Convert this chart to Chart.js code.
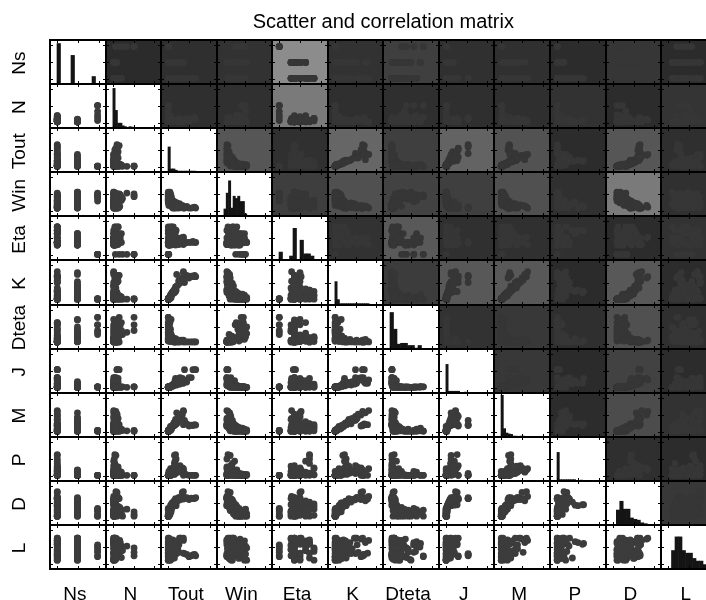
<!DOCTYPE html>
<html>
<head>
<meta charset="utf-8">
<style>
  html, body { margin: 0; padding: 0; background: #fff; width: 706px; height: 600px; overflow: hidden; }
  #wrap { position: relative; width: 706px; height: 600px; overflow: hidden; }
  canvas { position: absolute; top: 0; left: 0; }
</style>
<script src="https://cdn.jsdelivr.net/npm/chart.js@4"></script>
</head>
<body>
<div id="wrap"><canvas id="base" width="720" height="600"></canvas></div>
<script>
var names = ["Ns", "N", "Tout", "Win", "Eta", "K", "Dteta", "J", "M", "P", "D", "L"];

var Ns = [85,85,85,85,85,85,85,13,13,13,13,13,13,13,49,13,13,13,49,49,13,13,49,13,13,49,13,49,13,49,13,49,13,49,13,49,49,13,49,13,49,13,49,13,49,13,49,13,49,13,49,13,49,13,49,13,49,13,13,13,49,13,49,13,13,49,13,49,13,49,13,49,13,49,13,13,49,13,49,13,49];
var N = [51,51,51,38,30,24,17,20,24,22,18,16,22,20,14,20,14,18,14,16,14,22,16,16,18,14,15,14,14,15,16,14,18,15,20,15,15,22,14,25,14,16,14,28,14,14,14,18,15,14,14,20,14,16,14,15,14,14,14,16,20,26,15,28,24,18,15,16,14,14,16,15,18,14,20,16,17,22,15,18,19];
var Tout = [13,13,14,13,13,13,13,62,60,57,54,50,46,42,40,38,40,40,28,36,34,32,33,26,24,28,27,26,25,24,24,22,22,21,20,20,19,19,18,18,17,17,16,16,16,15,15,15,14,14,14,13,13,13,13,13,13,13,13,14,14,15,15,14,15,16,17,18,20,22,23,25,26,30,32,18,16,13,14,15,17];
var Win = [44,46,50,52,40,48,34,18,20,19,18,18,22,18,20,24,18,20,23,22,25,18,28,20,24,30,18,26,32,18,28,34,20,18,36,25,40,30,46,22,50,28,38,35,54,26,42,45,52,33,24,48,30,38,50,44,54,40,34,44,46,48,40,42,50,36,30,26,22,24,27,21,25,19,23,32,48,36,30,52,42];
var Eta = [13,13,13,13,13,13,13,40,40,42,40,40,40,38,50,50,35,52,50,50,40,35,40,67,67,40,67,50,60,35,67,40,75,50,40,60,40,75,50,40,40,75,50,60,40,40,34,60,43,34,50,40,40,34,50,40,40,60,67,40,40,50,34,40,60,43,50,34,40,50,43,60,34,40,40,67,50,75,34,40,60];
var K = [13,14,13,13,13,13,14,63,66,63,64,60,66,50,72,60,74,63,68,52,50,53,48,30,27,42,33,40,30,34,33,30,30,28,28,26,25,22,24,20,22,20,18,18,17,16,15,15,14,13,13,13,13,13,13,13,13,13,13,15,14,14,16,13,15,18,20,22,24,26,32,36,38,44,55,16,14,13,15,14,16];
var Dteta = [72,55,42,38,33,72,55,16,16,16,16,16,16,16,17,18,16,20,22,20,16,18,17,20,16,18,16,22,24,19,16,24,17,20,22,26,30,25,67,33,45,28,25,60,35,30,40,22,28,55,18,60,20,45,22,38,50,18,25,58,66,55,40,42,30,22,17,19,20,18,16,18,16,16,16,26,32,24,20,48,36];
var J = [14,14,14,13,14,14,13,53,53,53,35,35,25,53,22,33,30,30,22,22,35,33,20,33,22,18,22,20,28,18,21,16,20,17,18,16,15,16,15,14,14,13,14,14,13,13,13,13,13,13,13,13,13,13,13,13,13,13,13,14,13,13,14,13,14,15,15,16,17,18,19,20,24,26,28,15,13,14,14,13,14];
var M = [14,15,13,14,15,13,14,27,28,26,27,25,30,38,28,50,60,58,55,45,47,42,38,30,26,30,30,33,28,28,30,26,28,24,24,22,22,20,20,19,18,24,20,18,16,17,15,16,14,13,14,13,13,13,13,13,13,13,13,15,14,14,15,15,16,18,20,22,25,27,32,35,40,42,52,16,14,14,16,14,17];
var P = [13,13,13,13,13,13,13,13,13,13,13,13,14,17,13,30,28,25,20,24,35,32,22,60,58,25,50,18,45,15,40,20,30,16,25,14,18,14,13,22,13,28,13,20,15,13,13,16,13,22,13,14,13,13,13,13,13,13,13,14,13,13,14,13,15,16,18,16,22,18,26,17,34,20,24,18,14,14,13,13,15];
var D = [20,24,30,36,20,34,38,62,60,60,61,58,62,60,59,74,65,76,55,62,58,63,57,46,46,52,44,58,45,48,52,46,48,44,42,40,38,42,30,40,34,36,36,35,26,32,28,30,20,24,33,20,25,20,22,20,20,20,20,28,26,30,32,28,24,38,44,46,50,50,54,55,60,58,60,34,24,22,30,22,29];
var L = [30,38,48,52,42,28,55,30,33,32,30,28,33,35,36,68,65,70,60,70,70,55,70,58,56,35,60,60,62,32,25,55,40,66,30,50,24,45,58,65,38,20,60,52,48,20,68,42,34,55,22,62,70,45,20,28,20,58,36,40,50,60,30,26,64,35,56,44,24,28,64,42,52,46,38,66,32,48,70,22,58];

// histogram bins on the diagonal, height in percent of the panel
var histNs = [0,0,92,0,0,0,65,0,0,0,0,0,17,0,0,0];
var histN = [0,0,0,90,40,11,11,5,3,0,3,2,0,0,0,0,0,0,0,0,0,0,0,0];
var histTout = [0,0,0,57,7,7,4,2,2,2,2,2,2,2,2,0,0,0,0,0,0,0,0,0];
var histWin = [0,0,0,16,52,80,18,45,40,45,33,33,5,0,0,0,0,0,0,0,0,0,0,0];
var histEta = [0,0,18,0,0,9,72,0,45,14,14,9,0,0,0,0];
var histK = [0,0,0,52,12,3,3,3,3,3,3,3,3,3,3,3,3,3,0,0,0,0,0,0];
var histDteta = [0,0,83,45,11,13,13,8,8,2,8,0,0,0,0,0];
var histJ = [0,0,0,65,4,4,4,4,4,0,0,2,0,0,0,0,0,0,0,0,0,0,0,0];
var histM = [0,0,0,95,19,9,7,6,2,2,0,2,2,0,0,0,0,0,0,0,0,0,0,0];
var histP = [0,0,0,65,3,3,3,3,3,3,3,0,0,2,0,0,0,0,0,0,0,0,0,0];
var histD = [0,0,0,34,54,36,36,16,13,11,5,3,0,0,0,0];
var histL = [0,0,0,42,73,73,42,36,36,24,18,18,10,10,5,0];

// absolute correlation per row, for the columns right of the diagonal
var corrNs = [.02,.05,.08,.77,.08,.18,.06,.06,.03,.11,.02];
var corrN = [.05,.06,.63,.05,.05,.05,.05,.08,.03,.09];
var corrTout = [.35,.06,.48,.18,.45,.32,.03,.35,.05];
var corrWin = [.17,.31,.2,.18,.31,.06,.63,.06];
var corrEta = [.08,.38,.06,.06,.06,.03,.08];
var corrK = [.15,.37,.37,.02,.37,.03];
var corrDteta = [.08,.12,.05,.31,.05];
var corrJ = [.12,.02,.2,.03];
var corrM = [.03,.28,.08];
var corrP = [.05,.03];
var corrD = [.12];

var tickValues = [12, 50, 88];

var series = [Ns, N, Tout, Win, Eta, K, Dteta, J, M, P, D, L];
var hists = [histNs, histN, histTout, histWin, histEta, histK, histDteta, histJ, histM, histP, histD, histL];
var corrs = [corrNs, corrN, corrTout, corrWin, corrEta, corrK, corrDteta, corrJ, corrM, corrP, corrD];

var fontName = "'Liberation Sans', Arial, sans-serif";

// row names along the left side, turned like the reference
var rowLabels = {
    id: "rowLabels",
    afterDraw: function (chart) {
        var ctx = chart.ctx, y = chart.scales.y;
        ctx.save();
        ctx.font = "19px " + fontName;
        ctx.fillStyle = "#000";
        ctx.textAlign = "center";
        ctx.textBaseline = "middle";
        names.forEach(function (name, i) {
            ctx.save();
            ctx.translate(20, y.getPixelForTick(i) + 1);
            ctx.rotate(-Math.PI / 2);
            ctx.fillText(name, 0, 0);
            ctx.restore();
        });
        ctx.restore();
    },
};

var base = new Chart(document.getElementById("base").getContext("2d"), {
    type: "bar",
    data: { labels: names, datasets: [] },
    plugins: [rowLabels],
    options: {
        responsive: false,
        animation: false,
        events: [],
        layout: { padding: { right: 3.4 } },
        plugins: {
            legend: { display: false },
            tooltip: { enabled: false },
            title: {
                display: true,
                fullSize: false,
                text: "Scatter and correlation matrix",
                color: "#000",
                font: { family: fontName, size: 20, weight: "normal", lineHeight: 1.2 },
                padding: { top: 10, bottom: 6 },
            },
        },
        scales: {
            x: {
                type: "category",
                grid: { display: false },
                border: { display: false },
                afterFit: function (s) { s.height = 31; },
                ticks: { color: "#000", font: { family: fontName, size: 19 }, padding: 6, labelOffset: -3, maxRotation: 0, autoSkip: false },
            },
            y: {
                type: "category",
                labels: names,
                offset: true,
                grid: { display: false },
                border: { display: false },
                afterFit: function (s) { s.width = 50; },
                ticks: { display: false },
            },
        },
    },
});

// panel background, frame and the small inward ticks
var panelFrame = {
    id: "panelFrame",
    beforeDraw: function (chart, args, opts) {
        var a = chart.chartArea, ctx = chart.ctx;
        ctx.save();
        ctx.fillStyle = opts.background;
        ctx.fillRect(a.left, a.top, a.right - a.left, a.bottom - a.top);
        ctx.restore();
    },
    afterDraw: function (chart) {
        var a = chart.chartArea, ctx = chart.ctx;
        ctx.save();
        ctx.strokeStyle = "#000";
        ctx.lineWidth = 1;
        ctx.beginPath();
        tickValues.forEach(function (v) {
            var px = Math.round(chart.scales.x.getPixelForValue(v)) + 0.5;
            var py = Math.round(chart.scales.y.getPixelForValue(v)) + 0.5;
            ctx.moveTo(px, a.top); ctx.lineTo(px, a.top + 3);
            ctx.moveTo(px, a.bottom); ctx.lineTo(px, a.bottom - 3);
            ctx.moveTo(a.left, py); ctx.lineTo(a.left + 3, py);
            ctx.moveTo(a.right, py); ctx.lineTo(a.right - 3, py);
        });
        ctx.stroke();
        ctx.lineWidth = 2;
        ctx.strokeRect(a.left, a.top, a.right - a.left, a.bottom - a.top);
        ctx.restore();
    },
};

function panelOptions(background) {
    return {
        responsive: false,
        animation: false,
        events: [],
        layout: { padding: 1, autoPadding: false },
        plugins: {
            legend: { display: false },
            tooltip: { enabled: false },
            title: { display: false },
            panelFrame: { background: background },
        },
        scales: {
            x: { type: "linear", min: 0, max: 100, offset: false, display: false },
            y: { type: "linear", min: 0, max: 100, display: false },
        },
    };
}

function scatterData(col, row) {
    return series[col].map(function (v, k) { return { x: v, y: series[row][k] }; });
}

function histData(bins) {
    return bins.map(function (v, k) { return { x: (k + 0.5) * 100 / bins.length, y: v }; });
}

var area = base.chartArea;
var cellW = (area.right - area.left) / names.length;
var cellH = (area.bottom - area.top) / names.length;
var wrap = document.getElementById("wrap");

names.forEach(function (rowName, row) {
    names.forEach(function (colName, col) {
        var left = Math.round(area.left + col * cellW);
        var top = Math.round(area.top + row * cellH);
        var w = Math.round(area.left + (col + 1) * cellW) - left;
        var h = Math.round(area.top + (row + 1) * cellH) - top;

        var canvas = document.createElement("canvas");
        canvas.width = w + 2;
        canvas.height = h + 2;
        canvas.style.left = (left - 1) + "px";
        canvas.style.top = (top - 1) + "px";
        wrap.appendChild(canvas);

        var background = "#fff";
        var pointColor = "#3c3c3c";
        if (col > row) {
            var g = Math.round(40 + 130 * corrs[row][col - row - 1]);
            background = "rgb(" + g + "," + g + "," + g + ")";
            pointColor = "#363636";
        }

        if (row === col) {
            new Chart(canvas.getContext("2d"), {
                type: "bar",
                data: { datasets: [{ data: histData(hists[row]), backgroundColor: "#141414", borderWidth: 0, barThickness: w / hists[row].length }] },
                plugins: [panelFrame],
                options: panelOptions(background),
            });
        } else {
            new Chart(canvas.getContext("2d"), {
                type: "scatter",
                data: { datasets: [{ data: scatterData(col, row), backgroundColor: pointColor, borderWidth: 0, pointRadius: 3.4 }] },
                plugins: [panelFrame],
                options: panelOptions(background),
            });
        }
    });
});
</script>
</body>
</html>
